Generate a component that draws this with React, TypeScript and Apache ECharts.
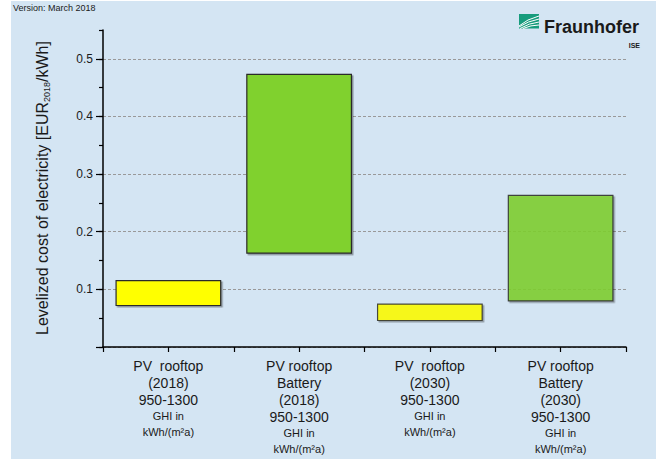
import React, { useEffect, useRef } from 'react';
import * as echarts from 'echarts';

// ---- data ----
const categoryLines: string[][] = [
  ['PV  rooftop', '(2018)', '950-1300'],
  ['PV rooftop', 'Battery', '(2018)', '950-1300'],
  ['PV  rooftop', '(2030)', '950-1300'],
  ['PV rooftop', 'Battery', '(2030)', '950-1300'],
];
const ghiLines = ['GHI in', 'kWh/(m²a)'];
const categoryPositions = [1, 2, 3, 4];
const lowValues = [0.072, 0.163, 0.046, 0.08];
const highValues = [0.115, 0.473, 0.0745, 0.263];
const yTickValues = [0, 0.1, 0.2, 0.3, 0.4, 0.5];
const yLabelValues = [0.1, 0.2, 0.3, 0.4, 0.5];
const versionText = 'Version: March 2018';
const yTitleParts = ['Levelized cost of electricity [EUR', '2018', '/kWh]'];
const logoName = 'Fraunhofer';
const logoSub = 'ISE';

// ---- styles ----
const barFills = ['#FFFF00', '#80D12F', '#FFFF00', '#80D12F'];
const barOpacity = [1, 1, 0.85, 0.85];
const FONT = '"Liberation Sans", Arial, sans-serif';
const BG = '#D4E5F3';

export default function App() {
  const ref = useRef<HTMLDivElement>(null);
  useEffect(() => {
    if (!ref.current) return;
    const chart = echarts.init(ref.current, undefined, { renderer: 'svg' });
    const axisLineStyle = { color: '#000', width: 1.5 };
    const option: any = {
      animation: false,
      backgroundColor: BG,
      textStyle: { fontFamily: FONT },
      grid: { left: 103, right: 30, top: 30, bottom: 112, containLabel: false },
      xAxis: {
        type: 'value',
        min: 0.5,
        max: 4.5,
        interval: 0.5,
        axisLine: { show: true, onZero: false, lineStyle: axisLineStyle },
        axisTick: { show: true, length: 5, lineStyle: { color: '#000', width: 1.2 } },
        splitLine: { show: false },
        axisLabel: {
          margin: 10,
          color: '#1a1a1a',
          fontFamily: FONT,
          formatter: (v: number) => {
            const idx = categoryPositions.indexOf(v);
            if (idx < 0) return '';
            const big = categoryLines[idx].map((s) => `{a|${s}}`).join('\n');
            const small = ghiLines.map((s) => `{b|${s}}`).join('\n');
            return big + '\n' + small;
          },
          rich: {
            a: { fontSize: 14, lineHeight: 17, fontFamily: FONT, color: '#1a1a1a', align: 'center' },
            b: { fontSize: 11, lineHeight: 16, fontFamily: FONT, color: '#1a1a1a', align: 'center' },
          },
        },
      },
      yAxis: [
        {
          type: 'value',
          position: 'left',
          min: 0,
          max: 0.55,
          interval: 0.05,
          axisLine: { show: true, onZero: false, lineStyle: axisLineStyle },
          axisTick: { show: true, length: 4, lineStyle: { color: '#000', width: 1.2 } },
          axisLabel: { show: false },
          splitLine: { show: false },
        },
        {
          type: 'value',
          position: 'left',
          min: 0,
          max: 0.55,
          interval: 0.1,
          axisLine: { show: false, onZero: false },
          axisTick: { show: true, length: 7, customValues: yTickValues, lineStyle: { color: '#000', width: 1.2 } },
          axisLabel: {
            show: true,
            customValues: yLabelValues,
            margin: 10,
            fontSize: 12,
            color: '#1a1a1a',
            fontFamily: FONT,
            formatter: (v: number) => v.toFixed(1),
          },
          splitLine: { show: true, lineStyle: { type: [3, 2], color: '#999', width: 1 } },
        },
      ],
      series: [
        {
          type: 'custom',
          xAxisIndex: 0,
          yAxisIndex: 0,
          encode: { x: 0, y: [1, 2] },
          data: categoryPositions.map((x, i) => [x, lowValues[i], highValues[i]]),
          renderItem: (params: any, api: any) => {
            const i = params.dataIndex;
            const x = api.value(0);
            const lo = api.value(1);
            const hi = api.value(2);
            const p1 = api.coord([x - 0.4, hi]);
            const p2 = api.coord([x + 0.4, lo]);
            return {
              type: 'rect',
              shape: { x: p1[0], y: p1[1], width: p2[0] - p1[0], height: p2[1] - p1[1] },
              style: {
                fill: barFills[i],
                stroke: '#2a2a2a',
                lineWidth: 1.2,
                opacity: barOpacity[i],
                shadowColor: 'rgba(0,0,0,0.35)',
                shadowBlur: 0,
                shadowOffsetX: 1.5,
                shadowOffsetY: 1.5,
              },
            };
          },
        },
      ],
      graphic: [
        { type: 'rect', left: 0, top: 0, shape: { width: 11, height: 459 }, style: { fill: '#fff' }, silent: true },
        { type: 'rect', left: 0, top: 0, shape: { width: 656, height: 1 }, style: { fill: '#fff' }, silent: true },
        {
          type: 'text',
          x: 13,
          y: 8,
          style: { text: versionText, fontSize: 9, fontFamily: FONT, fill: '#1a1a1a', align: 'left', verticalAlign: 'middle' },
        },
        {
          type: 'text',
          x: 42,
          y: 188,
          rotation: Math.PI / 2,
          style: {
            text: `{a|${yTitleParts[0]}}{s|${yTitleParts[1]}}{a|${yTitleParts[2]}}`,
            align: 'center',
            verticalAlign: 'middle',
            fill: '#1a1a1a',
            rich: {
              a: { fontSize: 16, lineHeight: 19, fontFamily: FONT, fill: '#1a1a1a', verticalAlign: 'middle' },
              s: { fontSize: 9, lineHeight: 10, fontFamily: FONT, fill: '#1a1a1a', verticalAlign: 'bottom' },
            },
          },
        },
        {
          type: 'group',
          x: 519,
          y: 14,
          children: [
            { type: 'rect', shape: { x: 0, y: 0, width: 20, height: 14.5 }, style: { fill: '#179C7D' } },
            { type: 'bezierCurve', shape: { x1: 0, y1: 12, cpx1: 8, cpy1: 5, x2: 20, y2: 2 }, style: { stroke: '#fff', lineWidth: 1, fill: 'none' } },
            { type: 'bezierCurve', shape: { x1: 0, y1: 13, cpx1: 9, cpy1: 7, x2: 20, y2: 5 }, style: { stroke: '#fff', lineWidth: 1, fill: 'none' } },
            { type: 'bezierCurve', shape: { x1: 1, y1: 14.5, cpx1: 10, cpy1: 9, x2: 20, y2: 8 }, style: { stroke: '#fff', lineWidth: 1, fill: 'none' } },
            { type: 'bezierCurve', shape: { x1: 4, y1: 14.5, cpx1: 12, cpy1: 11, x2: 20, y2: 11 }, style: { stroke: '#fff', lineWidth: 1, fill: 'none' } },
          ],
        },
        {
          type: 'text',
          x: 544,
          y: 27,
          style: { text: logoName, fontSize: 18, fontWeight: 'bold', fontFamily: FONT, fill: '#1a1a1a', align: 'left', verticalAlign: 'middle' },
        },
        {
          type: 'text',
          x: 640,
          y: 45.5,
          style: { text: logoSub, fontSize: 7, fontWeight: 'bold', fontFamily: FONT, fill: '#1a1a1a', align: 'right', verticalAlign: 'middle' },
        },
      ],
    };
    chart.setOption(option);
    return () => chart.dispose();
  }, []);
  return (
    <div style={{ position: 'fixed', left: 0, top: 0, width: 656, height: 459, background: '#fff' }}>
      <div ref={ref} style={{ width: 656, height: 459 }} />
    </div>
  );
}
